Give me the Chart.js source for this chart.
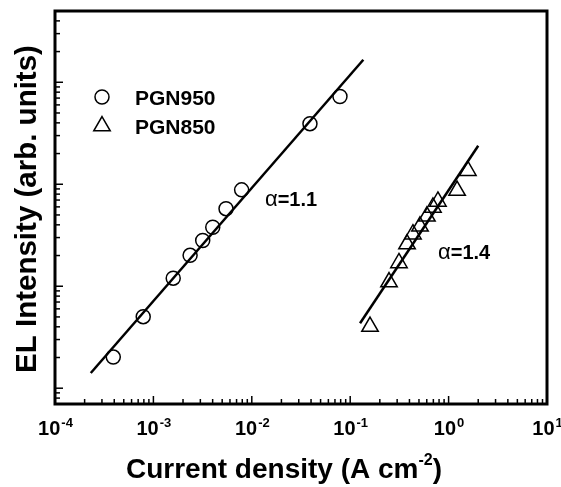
<!DOCTYPE html>
<html>
<head>
<meta charset="utf-8">
<script src="https://cdn.jsdelivr.net/npm/chart.js@4.4.0/dist/chart.umd.min.js"></script>
<style>
  html, body { margin: 0; padding: 0; background: #fff; }
  #wrap { width: 561px; height: 487px; }
</style>
</head>
<body>
<div id="wrap"><canvas id="chart"></canvas></div>
<script>
// EL intensity vs current density, log-log
const pgn950X = [3.91e-4, 7.88e-4, 1.59e-3, 2.36e-3, 3.17e-3, 4.01e-3, 5.47e-3, 7.88e-3, 0.039, 0.0787];
const pgn950Y = [20.2, 50.3, 120, 201, 281, 379, 576, 881, 3926, 7258];

const pgn850X = [0.159, 0.248, 0.313, 0.378, 0.434, 0.512, 0.602, 0.693, 0.779, 1.22, 1.57];
const pgn850Y = [40.2, 110, 169, 259, 324, 387, 485, 593, 678, 868, 1360];

// fitted power-law lines (end points)
const fit950X = [2.31e-4, 0.136];
const fit950Y = [14.1, 16630];
const fit850X = [0.1259, 2.0];
const fit850Y = [43.3, 2382];

const xTickExps = [-4, -3, -2, -1, 0, 1];
const xMin = 1e-4, xMax = 10;
const yMin = 7, yMax = 50000;

const slopeLabels = ['1.1', '1.4'];
const slopeAt = [{ x: 0.0136, y: 607 }, { x: 0.78, y: 185 }];

const FONT = '"Liberation Sans", Arial, Helvetica, sans-serif';

const toPts = (xs, ys) => xs.map((v, i) => ({ x: v, y: ys[i] }));

const decor = {
    id: 'decor',
    afterDatasetsDraw(chart) {
        const { ctx, chartArea: a, scales: { x, y } } = chart;
        ctx.save();
        ctx.strokeStyle = '#000';
        ctx.fillStyle = '#000';

        // minor / major ticks, pointing inward
        ctx.lineWidth = 1.5;
        for (let e = -4; e <= 1; e++) {
            for (let m = 1; m <= 9; m++) {
                const v = m * Math.pow(10, e);
                if (v > xMax * 1.0001) break;
                const px = x.getPixelForValue(v);
                const len = m === 1 ? 8 : 5;
                ctx.beginPath();
                ctx.moveTo(px, a.bottom);
                ctx.lineTo(px, a.bottom - len);
                ctx.stroke();
            }
        }
        for (let e = 0; e <= 4; e++) {
            for (let m = 1; m <= 9; m++) {
                const v = m * Math.pow(10, e);
                if (v < yMin * 0.999 || v > yMax * 1.0001) continue;
                const py = y.getPixelForValue(v);
                const len = m === 1 ? 8 : 5;
                ctx.beginPath();
                ctx.moveTo(a.left, py);
                ctx.lineTo(a.left + len, py);
                ctx.stroke();
            }
        }

        // frame
        ctx.lineWidth = 3;
        ctx.strokeRect(a.left, a.top, a.right - a.left, a.bottom - a.top);

        // x tick labels 10^n
        ctx.textBaseline = 'alphabetic';
        xTickExps.forEach(e => {
            const px = x.getPixelForValue(Math.pow(10, e));
            ctx.font = 'bold 20px ' + FONT;
            const wBase = ctx.measureText('10').width;
            ctx.font = 'bold 13px ' + FONT;
            const sup = String(e);
            const wSup = ctx.measureText(sup).width;
            const left = px - (wBase + wSup) / 2;
            ctx.font = 'bold 20px ' + FONT;
            ctx.textAlign = 'left';
            ctx.fillText('10', left, a.bottom + 31);
            ctx.font = 'bold 13px ' + FONT;
            ctx.fillText(sup, left + wBase + 1, a.bottom + 23);
        });

        // x title with superscript
        const t1 = 'Current density (A cm', t2 = '-2', t3 = ')';
        ctx.font = 'bold 28px ' + FONT;
        const w1 = ctx.measureText(t1).width, w3 = ctx.measureText(t3).width;
        ctx.font = 'bold 16px ' + FONT;
        const w2 = ctx.measureText(t2).width;
        let tx = 284 - (w1 + w2 + w3) / 2;
        const tb = a.bottom + 74;
        ctx.font = 'bold 28px ' + FONT;
        ctx.fillText(t1, tx, tb);
        ctx.font = 'bold 16px ' + FONT;
        ctx.fillText(t2, tx + w1, tb - 13);
        ctx.font = 'bold 28px ' + FONT;
        ctx.fillText(t3, tx + w1 + w2, tb);

        // y title
        ctx.save();
        ctx.translate(36, 209);
        ctx.rotate(-Math.PI / 2);
        ctx.textAlign = 'center';
        ctx.font = 'bold 29.5px ' + FONT;
        ctx.fillText('EL Intensity (arb. units)', 0, 0);
        ctx.restore();

        // legend (hollow markers, same style as the datasets)
        const ds = chart.data.datasets;
        [0, 1].forEach(i => {
            const cy = 97 + i * 29;
            ctx.save();
            ctx.fillStyle = 'rgba(0,0,0,0)';
            ctx.lineWidth = ds[i].borderWidth;
            Chart.helpers.drawPoint(ctx, {
                pointStyle: ds[i].pointStyle,
                radius: ds[i].pointRadius,
                borderWidth: ds[i].borderWidth,
                rotation: 0
            }, 102, cy);
            ctx.restore();
            ctx.font = 'bold 21px ' + FONT;
            ctx.textAlign = 'left';
            ctx.fillText(ds[i].label, 135, cy + 8);
        });

        // slope annotations
        slopeAt.forEach((p, i) => {
            const px = x.getPixelForValue(p.x);
            const py = y.getPixelForValue(p.y);
            ctx.textAlign = 'left';
            ctx.font = '22px ' + FONT;
            ctx.fillText('\u03b1', px, py);
            const wa = ctx.measureText('\u03b1').width;
            ctx.font = 'bold 20px ' + FONT;
            ctx.fillText('=' + slopeLabels[i], px + wa, py);
        });

        ctx.restore();
    }
};

new Chart(document.getElementById('chart'), {
    type: 'scatter',
    data: {
        datasets: [
            {
                label: 'PGN950',
                data: toPts(pgn950X, pgn950Y),
                pointStyle: 'circle',
                pointRadius: 7,
                borderWidth: 1.5,
                borderColor: '#000',
                backgroundColor: 'rgba(0,0,0,0)'
            },
            {
                label: 'PGN850',
                data: toPts(pgn850X, pgn850Y),
                pointStyle: 'triangle',
                pointRadius: 9.5,
                borderWidth: 1.5,
                borderColor: '#000',
                backgroundColor: 'rgba(0,0,0,0)'
            },
            {
                label: 'fit 950',
                data: toPts(fit950X, fit950Y),
                showLine: true,
                pointRadius: 0,
                borderColor: '#000',
                borderWidth: 2.5
            },
            {
                label: 'fit 850',
                data: toPts(fit850X, fit850Y),
                showLine: true,
                pointRadius: 0,
                borderColor: '#000',
                borderWidth: 2.5
            }
        ]
    },
    options: {
        responsive: true,
        maintainAspectRatio: false,
        animation: false,
        layout: { padding: { left: 55, right: 14, top: 8, bottom: 83 } },
        plugins: {
            legend: { display: false },
            tooltip: { enabled: false }
        },
        scales: {
            x: { type: 'logarithmic', min: xMin, max: xMax, display: false },
            y: { type: 'logarithmic', min: yMin, max: yMax, display: false }
        }
    },
    plugins: [decor]
});
</script>
</body>
</html>
